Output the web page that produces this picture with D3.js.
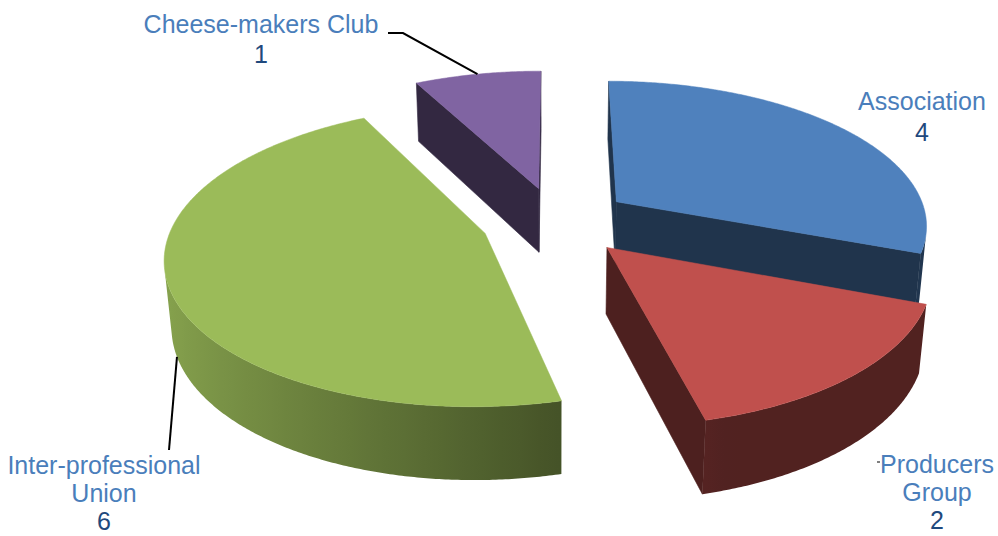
<!DOCTYPE html>
<html>
<head>
<meta charset="utf-8">
<script src="https://cdn.jsdelivr.net/npm/d3@7"></script>
<style>
  body { margin: 0; background: #fff; }
  svg { display: block; }
  text { font-family: "Liberation Sans", Arial, sans-serif; font-size: 25px; }
</style>
</head>
<body>
<svg id="chart" width="998" height="536"></svg>
<script>
// ---- data ----
const categories = ["Association", "Producers Group", "Inter-professional Union", "Cheese-makers Club"];
const values = [4, 2, 6, 1];
const labelLines = [["Association"], ["Producers", "Group"], ["Inter-professional", "Union"], ["Cheese-makers Club"]];
const colors = ["#4F81BD", "#C0504D", "#9BBB59", "#8064A2"];

// ---- label layout (centre x, first baseline, line step) ----
const labelPos = [[922, 110, 31], [937, 473, 28], [104, 474, 28], [261, 33, 30]];

// ---- 3D view of the pie ----
const cx = 556, cy = 221;          // screen position of the pie centre (top face)
const focal = 1870, camDist = 6;   // perspective
const elev = Math.asin(0.461);     // viewing elevation
const S = Math.sin(elev), C = Math.cos(elev);
const radius = 1, thick = 0.24, explode = 0.24;
const cam = [0, -camDist * C, camDist * S];

function project(X, Y, Z) {
  const zc = camDist + Y * C - Z * S;
  return [cx + focal * X / zc, cy - focal * (Y * S + Z * C) / zc];
}
function depth(X, Y, Z) { return camDist + Y * C - Z * S; }
function facing(n, p) {
  return n[0] * (cam[0] - p[0]) + n[1] * (cam[1] - p[1]) + n[2] * (cam[2] - p[2]) > 0;
}
function shade(hex, f) {
  const c = d3.rgb(hex);
  return d3.rgb(c.r * f, c.g * f, c.b * f).formatHex();
}
// brightness of the curved wall as it turns towards the left
function wallLight(theta) {
  const s = Math.sin(theta);
  return 0.42 + Math.max(0, 0.3 - s) / 1.3 * 0.46;
}

const svg = d3.select("#chart");
const defs = svg.append("defs");
const line = d3.line();
const arcs = d3.pie().sort(null).value(d => d).startAngle(0).endAngle(2 * Math.PI)(values);

const slices = arcs.map((a, i) => {
  const mid = (a.startAngle + a.endAngle) / 2;
  const ox = explode * Math.sin(mid), oy = explode * Math.cos(mid);
  return { i, a0: a.startAngle, a1: a.endAngle, mid, ox, oy, d: depth(ox, oy, 0) };
});

const rim = (s, t, z) => [s.ox + radius * Math.sin(t), s.oy + radius * Math.cos(t), z];

// farthest slice first
slices.slice().sort((p, q) => q.d - p.d).forEach(s => {
  const g = svg.append("g").attr("class", "slice");
  const col = colors[s.i];
  const dark = shade(col, 0.4);
  const steps = Math.max(16, Math.ceil((s.a1 - s.a0) / (Math.PI / 360)));
  const angles = d3.range(steps + 1).map(k => s.a0 + (s.a1 - s.a0) * k / steps);
  const ctrTop = [s.ox, s.oy, 0], ctrBot = [s.ox, s.oy, -thick];

  // radial walls
  const walls = [
    { t: s.a0, n: [-Math.cos(s.a0), Math.sin(s.a0), 0] },
    { t: s.a1, n: [Math.cos(s.a1), -Math.sin(s.a1), 0] }
  ];
  walls.forEach(w => {
    const pts = [ctrTop, rim(s, w.t, 0), rim(s, w.t, -thick), ctrBot];
    if (facing(w.n, pts[1])) {
      g.append("path")
        .attr("d", line(pts.map(p => project(...p))) + "Z")
        .attr("fill", dark).attr("stroke", dark).attr("stroke-width", 0.6);
    }
  });

  // curved outer wall: the part that faces the camera, one shape with a shaded gradient
  const vis = angles.filter(t => facing([Math.sin(t), Math.cos(t), 0], rim(s, t, 0)));
  if (vis.length > 1) {
    const topPts = vis.map(t => project(...rim(s, t, 0)));
    const botPts = vis.slice().reverse().map(t => project(...rim(s, t, -thick)));
    const xs = topPts.map(p => p[0]);
    const x0 = d3.min(xs), x1 = d3.max(xs);
    const id = "wall" + s.i;
    const grad = defs.append("linearGradient").attr("id", id)
      .attr("gradientUnits", "userSpaceOnUse")
      .attr("x1", x0).attr("y1", 0).attr("x2", x1).attr("y2", 0);
    const stops = vis.map((t, k) => ({ o: x1 > x0 ? (xs[k] - x0) / (x1 - x0) : 0, c: shade(col, wallLight(t)) }))
      .sort((p, q) => p.o - q.o);
    stops.filter((st, k) => k % 6 === 0 || k === stops.length - 1).forEach(st =>
      grad.append("stop").attr("offset", st.o).attr("stop-color", st.c));
    g.append("path")
      .attr("d", line(topPts.concat(botPts)) + "Z")
      .attr("fill", `url(#${id})`);
  }

  // top face
  const top = [ctrTop].concat(angles.map(t => rim(s, t, 0)));
  g.append("path")
    .attr("d", line(top.map(p => project(...p))) + "Z")
    .attr("fill", col).attr("stroke", col).attr("stroke-width", 0.5);
});

// ---- leader lines ----
const byName = name => slices[categories.indexOf(name)];
const cheese = byName("Cheese-makers Club");
const cheeseAnchor = project(...rim(cheese, cheese.mid, 0));
svg.append("path")
  .attr("d", line([[388, 33], [403, 33], cheeseAnchor]))
  .attr("fill", "none").attr("stroke", "#000").attr("stroke-width", 2);

const inter = byName("Inter-professional Union");
const interAnchor = project(...rim(inter, inter.mid, -thick));
svg.append("path")
  .attr("d", line([[169, 450], interAnchor]))
  .attr("fill", "none").attr("stroke", "#000").attr("stroke-width", 2);

svg.append("path")
  .attr("d", line([[877, 462], [880, 462]]))
  .attr("fill", "none").attr("stroke", "#555").attr("stroke-width", 1.5);

// ---- data labels ----
categories.forEach((c, i) => {
  const [x, y, step] = labelPos[i];
  const t = svg.append("text").attr("text-anchor", "middle");
  labelLines[i].forEach((ln, j) => {
    t.append("tspan").attr("x", x).attr("y", y + j * step)
      .attr("fill", "#4A7EBB").text(ln);
  });
  t.append("tspan").attr("x", x).attr("y", y + labelLines[i].length * step)
    .attr("fill", "#1F497D").text(values[i]);
});
</script>
</body>
</html>
